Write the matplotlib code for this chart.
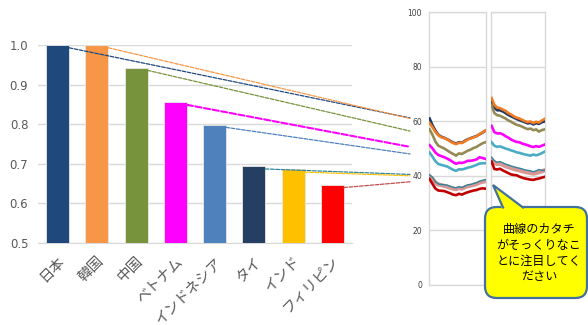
import matplotlib
matplotlib.use('Agg')
import matplotlib.pyplot as plt
from matplotlib.patches import ConnectionPatch, FancyBboxPatch, Polygon
from matplotlib.lines import Line2D

plt.rcParams['font.family'] = ['Noto Sans CJK JP', 'DejaVu Sans']

# ---------------- data ----------------
countries = ['日本', '韓国', '中国', 'ベトナム', 'インドネシア', 'タイ', 'インド', 'フィリピン']
ratios = [1.0, 1.0, 0.943, 0.856, 0.799, 0.694, 0.686, 0.647]
bar_colors = ['#1f497d', '#f79646', '#77933c', '#ff00ff', '#4f81bd', '#253f62', '#ffc000', '#ff0000']
bar_yticks = [0.5, 0.6, 0.7, 0.8, 0.9, 1.0]

link_end = [61.2, 61.0, 56.4, 50.6, 48.0, 40.5, 40.0, 37.8]
link_colors = ['#1f497d', '#f79646', '#77933c', '#ff00ff', '#4f81bd', '#31859c', '#ffc000', '#c0504d']

panel_yticks = [0, 20, 40, 60, 80, 100]

# panel 1 series
p1_navy = [61.0, 58.5, 56.5, 55.0, 54.3, 53.9, 53.4, 52.8, 52.2, 51.8, 52.3, 52.1, 52.8, 53.4, 53.8, 54.2, 54.6, 55.2, 55.8, 56.5]
p1_orange = [59.3, 57.8, 56.0, 54.8, 54.1, 53.8, 53.3, 52.6, 52.0, 51.6, 52.1, 52.0, 52.6, 53.3, 53.7, 54.1, 54.5, 55.3, 55.9, 56.6]
p1_khaki = [57.0, 55.0, 52.5, 51.0, 50.5, 50.0, 49.3, 48.6, 48.0, 47.4, 48.2, 48.0, 48.6, 49.2, 49.6, 50.2, 50.6, 51.3, 51.9, 52.3]
p1_magenta = [51.2, 50.0, 48.5, 47.6, 47.2, 46.8, 46.3, 45.7, 45.0, 44.4, 44.8, 44.7, 45.0, 45.5, 45.5, 45.7, 46.0, 46.8, 46.5, 46.2]
p1_cyan = [48.5, 47.0, 45.3, 44.3, 44.0, 43.7, 43.4, 42.8, 42.2, 41.8, 42.4, 42.3, 42.6, 43.0, 43.2, 43.6, 44.0, 44.5, 44.6, 44.6]
p1_pink = [39.8, 38.8, 37.5, 36.8, 36.6, 36.3, 36.0, 35.6, 35.3, 35.1, 35.5, 35.3, 35.8, 36.2, 36.4, 36.7, 37.0, 37.5, 37.8, 38.0]
p1_teal = [40.3, 39.5, 37.8, 37.0, 36.8, 36.7, 36.6, 36.2, 35.8, 35.6, 36.0, 35.7, 36.2, 36.7, 36.8, 37.2, 37.5, 38.0, 38.3, 38.6]
p1_red = [38.8, 37.0, 35.3, 34.6, 34.5, 34.4, 34.0, 33.6, 33.1, 32.9, 33.4, 33.1, 33.6, 34.0, 34.3, 34.6, 34.8, 35.2, 35.4, 35.3]

# panel 2 series
p2_navy = [67.5, 65.0, 64.0, 64.0, 63.6, 63.0, 62.3, 61.8, 61.3, 60.8, 60.4, 60.0, 59.6, 59.2, 59.4, 58.8, 59.3, 59.0, 59.6, 59.9]
p2_orange = [68.5, 66.0, 65.0, 64.8, 64.3, 63.8, 63.0, 62.5, 61.8, 61.3, 61.0, 60.5, 60.0, 59.7, 59.9, 59.3, 59.8, 59.5, 60.2, 60.8]
p2_khaki = [65.9, 63.0, 62.2, 62.0, 61.5, 61.0, 60.3, 59.8, 59.2, 58.7, 58.4, 58.0, 57.5, 57.1, 57.3, 56.7, 57.0, 56.2, 56.7, 57.0]
p2_magenta = [58.3, 56.0, 55.5, 55.6, 55.2, 54.5, 54.0, 53.3, 52.8, 52.4, 52.3, 51.8, 51.5, 51.2, 50.8, 50.5, 50.9, 50.6, 51.0, 51.4]
p2_cyan = [52.3, 51.0, 50.6, 50.8, 50.4, 50.0, 49.7, 49.3, 49.0, 48.6, 48.4, 48.1, 47.8, 47.6, 47.4, 47.8, 47.5, 47.8, 48.3, 48.8]
p2_pink = [46.0, 44.8, 44.3, 44.5, 44.0, 43.5, 43.2, 42.8, 42.5, 42.2, 42.0, 41.7, 41.4, 41.2, 41.0, 40.8, 41.0, 41.3, 41.6, 42.0]
p2_teal = [46.8, 45.5, 45.0, 45.2, 44.8, 44.3, 44.0, 43.6, 43.3, 43.0, 42.8, 42.5, 42.2, 42.0, 41.8, 41.5, 41.8, 42.3, 42.0, 42.0]
p2_red = [45.2, 42.5, 42.3, 42.6, 42.0, 41.5, 41.0, 40.5, 40.3, 40.2, 39.7, 39.3, 39.0, 38.8, 38.6, 38.5, 38.8, 39.0, 39.3, 39.6]

callout_text = '曲線のカタチ\nがそっくりなこ\nとに注目してく\nださい'

# ---------------- figure ----------------
W, H = 588, 325
fig = plt.figure(figsize=(W / 100, H / 100), dpi=100)
fig.patch.set_facecolor('white')


def fx(x):
    return x / W


def fy(y):
    return 1 - y / H


grid_c = '#d9d9d9'
txt_c = '#595959'

# bar chart
axb = fig.add_axes([fx(38), fy(243), (352 - 38) / W, (243 - 45) / H])
x = list(range(len(countries)))
axb.bar(x, ratios, width=0.58, color=bar_colors, edgecolor='#e8e8e8', linewidth=0.6, zorder=3)
axb.set_ylim(0.5, 1.0)
axb.set_xlim(-0.5, len(countries) - 0.5)
axb.set_yticks(bar_yticks)
axb.set_yticklabels(['%.1f' % v for v in bar_yticks], fontsize=8.5, color=txt_c, family='DejaVu Sans')
axb.set_xticks(x)
axb.set_xticklabels(countries, rotation=45, ha='right', rotation_mode='anchor', fontsize=10.5, color=txt_c)
axb.tick_params(axis='both', length=0)
axb.tick_params(axis='y', pad=7)
axb.tick_params(axis='x', pad=8)
for s in ['top', 'right', 'left']:
    axb.spines[s].set_visible(False)
axb.spines['bottom'].set_color(grid_c)
axb.yaxis.grid(True, color=grid_c, linewidth=1.0, zorder=0)
axb.set_axisbelow(True)

# line panels
def make_panel(left, right, series, ylabels):
    ax = fig.add_axes([fx(left), fy(285), (right - left) / W, (285 - 12) / H])
    ax.set_ylim(0, 100)
    ax.set_xlim(-0.2, len(series[0][0]) - 0.8)
    ax.set_yticks(panel_yticks)
    if ylabels:
        ax.set_yticklabels([str(v) for v in panel_yticks], fontsize=5.5, color='#404040', family='DejaVu Sans')
    else:
        ax.set_yticklabels([])
    ax.set_xticks([])
    ax.tick_params(axis='y', length=0, pad=5)
    for s in ax.spines.values():
        s.set_color(grid_c)
        s.set_linewidth(1.0)
    ax.yaxis.grid(True, color=grid_c, linewidth=1.0, zorder=0)
    for vals, col, lw in series:
        ax.plot(range(len(vals)), vals, color=col, lw=lw, solid_joinstyle='round', zorder=3)
    return ax


c_navy, c_orange, c_khaki = '#1f3864', '#f07c24', '#948a54'
c_mag, c_cyan, c_pink, c_teal, c_red = '#ff00ff', '#4bacc6', '#d99694', '#31849b', '#c00000'

ax1 = make_panel(429, 486, [
    (p1_navy, c_navy, 1.9), (p1_orange, c_orange, 1.9), (p1_khaki, c_khaki, 1.9),
    (p1_magenta, c_mag, 1.9), (p1_cyan, c_cyan, 1.9), (p1_pink, c_pink, 3.0),
    (p1_teal, c_teal, 1.0), (p1_red, c_red, 1.9)], True)
ax2 = make_panel(491, 545, [
    (p2_navy, c_navy, 1.9), (p2_orange, c_orange, 1.9), (p2_khaki, c_khaki, 1.9),
    (p2_magenta, c_mag, 1.9), (p2_cyan, c_cyan, 1.9), (p2_pink, c_pink, 3.0),
    (p2_teal, c_teal, 1.0), (p2_red, c_red, 1.9)], False)

# dashed connectors
xend = (410 - 429) / (486 - 429)
for i, (v, e, c) in enumerate(zip(ratios, link_end, link_colors)):
    lw = 1.5 if i == 3 else 0.9
    con = ConnectionPatch(xyA=(i + 0.29, v - 0.007), coordsA=axb.transData,
                          xyB=(xend, e), coordsB=ax1.get_yaxis_transform(),
                          color=c, lw=lw, linestyle=(0, (3, 1.2)), zorder=5)
    fig.add_artist(con)

# callout
edge_c = '#41719c'
box = FancyBboxPatch((fx(485), fy(298)), fx(587 - 485), (298 - 207) / H,
                     boxstyle='round,pad=0,rounding_size=0.02', mutation_aspect=W / H,
                     transform=fig.transFigure, facecolor='#ffff00', edgecolor=edge_c,
                     linewidth=1.6, zorder=10)
fig.add_artist(box)
tail = Polygon([(fx(493), fy(185)), (fx(502), fy(209)), (fx(524), fy(209))], closed=True,
               transform=fig.transFigure, facecolor='#ffff00', edgecolor='none', zorder=11)
fig.add_artist(tail)
fig.add_artist(Line2D([fx(503), fx(493), fx(523)], [fy(207.5), fy(185), fy(207.5)],
                      transform=fig.transFigure, color=edge_c, lw=1.6, zorder=12,
                      solid_joinstyle='miter'))
fig.text(fx(539), fy(253), callout_text, ha='center', va='center', fontsize=8.7,
         linespacing=1.3, color='black', zorder=13)

fig.savefig('out.png', dpi=100)
